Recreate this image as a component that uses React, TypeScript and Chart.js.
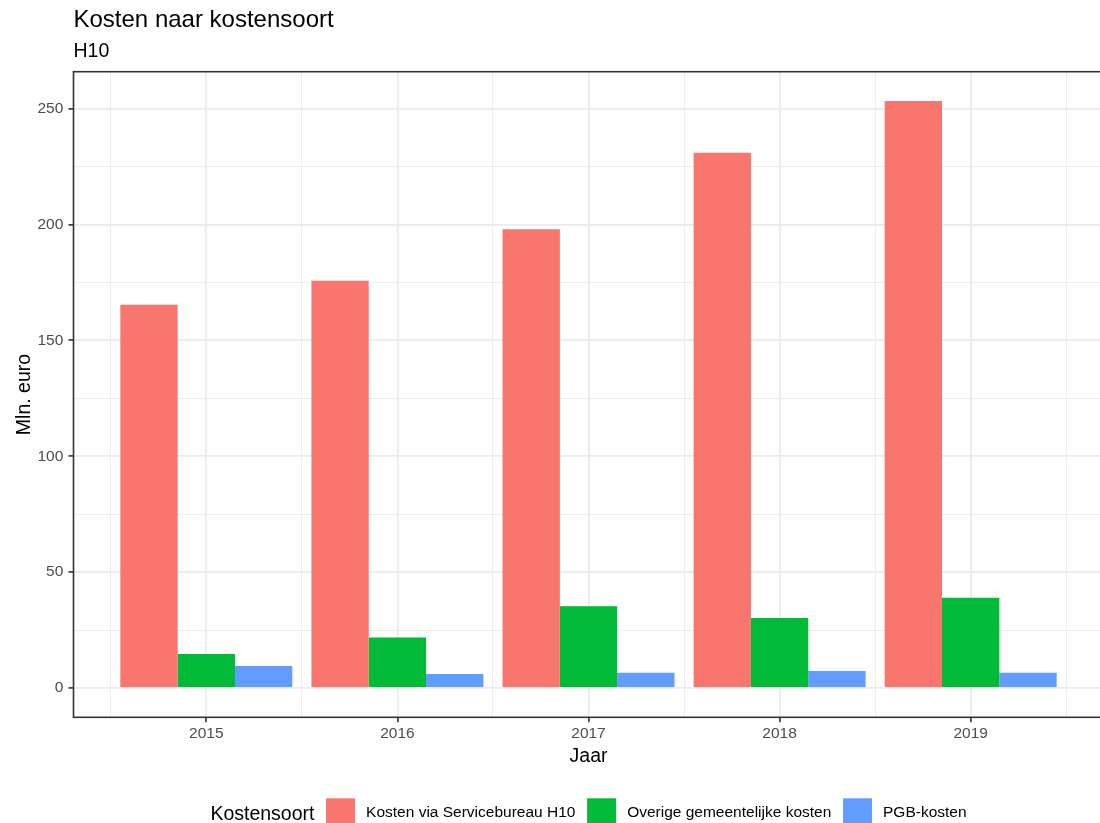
import React, { useEffect, useRef } from 'react';
import { Chart, registerables } from 'chart.js';

Chart.register(...registerables);

// ---- data ----
const years = [2015, 2016, 2017, 2018, 2019];
const servicebureau = [165.4, 175.7, 198.0, 231.0, 253.3];
const overige = [14.7, 21.8, 35.3, 30.2, 38.9];
const pgb = [9.5, 6.0, 6.6, 7.3, 6.6];
const seriesLabels = ['Kosten via Servicebureau H10', 'Overige gemeentelijke kosten', 'PGB-kosten'];
const seriesColors = ['#F8766D', '#00BA38', '#619CFF'];
const yTickValues = [0, 25, 50, 75, 100, 125, 150, 175, 200, 225, 250];
const yLabelStep = 50;
const xTickValues = [2014.5, 2015, 2015.5, 2016, 2016.5, 2017, 2017.5, 2018, 2018.5, 2019, 2019.5];

const titleText = 'Kosten naar kostensoort';
const subtitleText = 'H10';
const xTitle = 'Jaar';
const yTitle = 'Mln. euro';
const legendTitle = 'Kostensoort';

const FONT = '"Liberation Sans", Arial, Helvetica, sans-serif';

export default function App() {
  const ref = useRef<HTMLCanvasElement>(null);

  useEffect(() => {
    const canvas = ref.current!;
    const seriesValues = [servicebureau, overige, pgb];
    const allVals = [...servicebureau, ...overige, ...pgb, 0];
    const vmin = Math.min(...allVals);
    const vmax = Math.max(...allVals);
    const ypad = 0.05 * (vmax - vmin);
    const xlo = years[0] - 0.45;
    const xhi = years[years.length - 1] + 0.45;
    const xpad = 0.05 * (xhi - xlo);
    const isMajorX = (v: number) => Math.abs(v - Math.round(v)) < 1e-6;
    const isMajorY = (v: number) => Math.abs(v % yLabelStep) < 1e-6;

    const textPlugin = {
      id: 'ggText',
      afterDatasetsDraw(chart: any) {
        const { ctx, chartArea: ca } = chart;
        ctx.save();
        ctx.strokeStyle = '#333333';
        ctx.lineWidth = 1.6;
        ctx.strokeRect(ca.left, ca.top, ca.right - ca.left, ca.bottom - ca.top);
        ctx.restore();
      },
      afterDraw(chart: any) {
        const { ctx, chartArea: ca } = chart;
        ctx.save();
        ctx.fillStyle = '#000000';
        ctx.textBaseline = 'alphabetic';
        ctx.textAlign = 'left';
        ctx.font = `24px ${FONT}`;
        ctx.fillText(titleText, ca.left, 27);
        ctx.font = `19.5px ${FONT}`;
        ctx.fillText(subtitleText, ca.left, 56.5);

        // axis titles
        ctx.textAlign = 'center';
        ctx.fillText(xTitle, (ca.left + ca.right) / 2, 761.5);
        ctx.save();
        ctx.translate(29.5, (ca.top + ca.bottom) / 2);
        ctx.rotate(-Math.PI / 2);
        ctx.fillText(yTitle, 0, 0);
        ctx.restore();

        // legend
        ctx.textAlign = 'left';
        const keySize = 29;
        const gapTitle = 11.6;
        const gapKeyText = 11;
        const gapItem = 11.7;
        ctx.font = `19.5px ${FONT}`;
        const titleW = ctx.measureText(legendTitle).width;
        ctx.font = `15.5px ${FONT}`;
        const ds = chart.data.datasets;
        const widths = ds.map((d: any) => ctx.measureText(d.label).width);
        let total = titleW + gapTitle;
        widths.forEach((w: number, i: number) => {
          total += keySize + gapKeyText + w + (i < widths.length - 1 ? gapItem : 0);
        });
        let x = (ca.left + ca.right) / 2 - total / 2;
        ctx.font = `19.5px ${FONT}`;
        ctx.fillText(legendTitle, x, 820.3);
        x += titleW + gapTitle;
        ctx.font = `15.5px ${FONT}`;
        ds.forEach((d: any, i: number) => {
          ctx.fillStyle = d.backgroundColor;
          ctx.fillRect(x, 798.3, keySize, keySize);
          x += keySize + gapKeyText;
          ctx.fillStyle = '#000000';
          ctx.fillText(d.label, x, 817.3);
          x += widths[i] + gapItem;
        });
        ctx.restore();
      },
    };

    const chart = new Chart(canvas, {
      type: 'bar',
      data: {
        datasets: seriesValues.map((vals, s) => ({
          label: seriesLabels[s],
          data: years.map((yr, i) => ({ x: yr, y: vals[i] })),
          backgroundColor: seriesColors[s],
          borderWidth: 0,
          // ticks sit every half year, so the ruler unit is half a category
          categoryPercentage: 1.8,
          barPercentage: 1.0,
        })),
      },
      options: {
        responsive: false,
        animation: false,
        events: [],
        layout: { padding: { top: 71.7, right: 6.5, bottom: 0, left: 0 } },
        plugins: {
          legend: { display: false },
          title: { display: false },
          tooltip: { enabled: false },
        },
        scales: {
          x: {
            type: 'linear',
            min: xlo - xpad,
            max: xhi + xpad,
            offset: false,
            afterBuildTicks: (axis: any) => {
              axis.ticks = xTickValues.map((v) => ({ value: v }));
            },
            afterFit: (scale: any) => {
              scale.height = 823 - 717.3;
            },
            ticks: {
              autoSkip: false,
              maxRotation: 0,
              padding: 2,
              color: '#4D4D4D',
              font: { family: FONT, size: 15.5 },
              callback: (v: any) => (isMajorX(Number(v)) ? String(Math.round(Number(v))) : ''),
            },
            grid: {
              offset: false,
              color: '#EBEBEB',
              lineWidth: (c: any) => (c.tick && isMajorX(c.tick.value) ? 1.8 : 0.9),
              tickColor: (c: any) => (c.tick && isMajorX(c.tick.value) ? '#333333' : 'rgba(0,0,0,0)'),
              tickLength: 5,
              tickWidth: 1.6,
            },
            border: { display: false },
          },
          y: {
            type: 'linear',
            min: vmin - ypad,
            max: vmax + ypad,
            afterBuildTicks: (axis: any) => {
              axis.ticks = yTickValues.map((v) => ({ value: v }));
            },
            afterFit: (scale: any) => {
              scale.width = 73.5;
            },
            ticks: {
              autoSkip: false,
              padding: 5.2,
              color: '#4D4D4D',
              font: { family: FONT, size: 15.5 },
              callback: (v: any) => (isMajorY(Number(v)) ? String(v) : ''),
            },
            grid: {
              color: '#EBEBEB',
              lineWidth: (c: any) => (c.tick && isMajorY(c.tick.value) ? 1.8 : 0.9),
              tickColor: (c: any) => (c.tick && isMajorY(c.tick.value) ? '#333333' : 'rgba(0,0,0,0)'),
              tickLength: 5,
              tickWidth: 1.6,
            },
            border: { display: false },
          },
        },
      },
      plugins: [textPlugin],
    } as any);

    return () => chart.destroy();
  }, []);

  return (
    <div
      style={{
        position: 'fixed',
        left: 0,
        top: 0,
        width: 1100,
        height: 823,
        overflow: 'hidden',
        background: '#ffffff',
      }}
    >
      <canvas ref={ref} width={1110} height={823} style={{ display: 'block', width: 1110, height: 823 }} />
    </div>
  );
}
